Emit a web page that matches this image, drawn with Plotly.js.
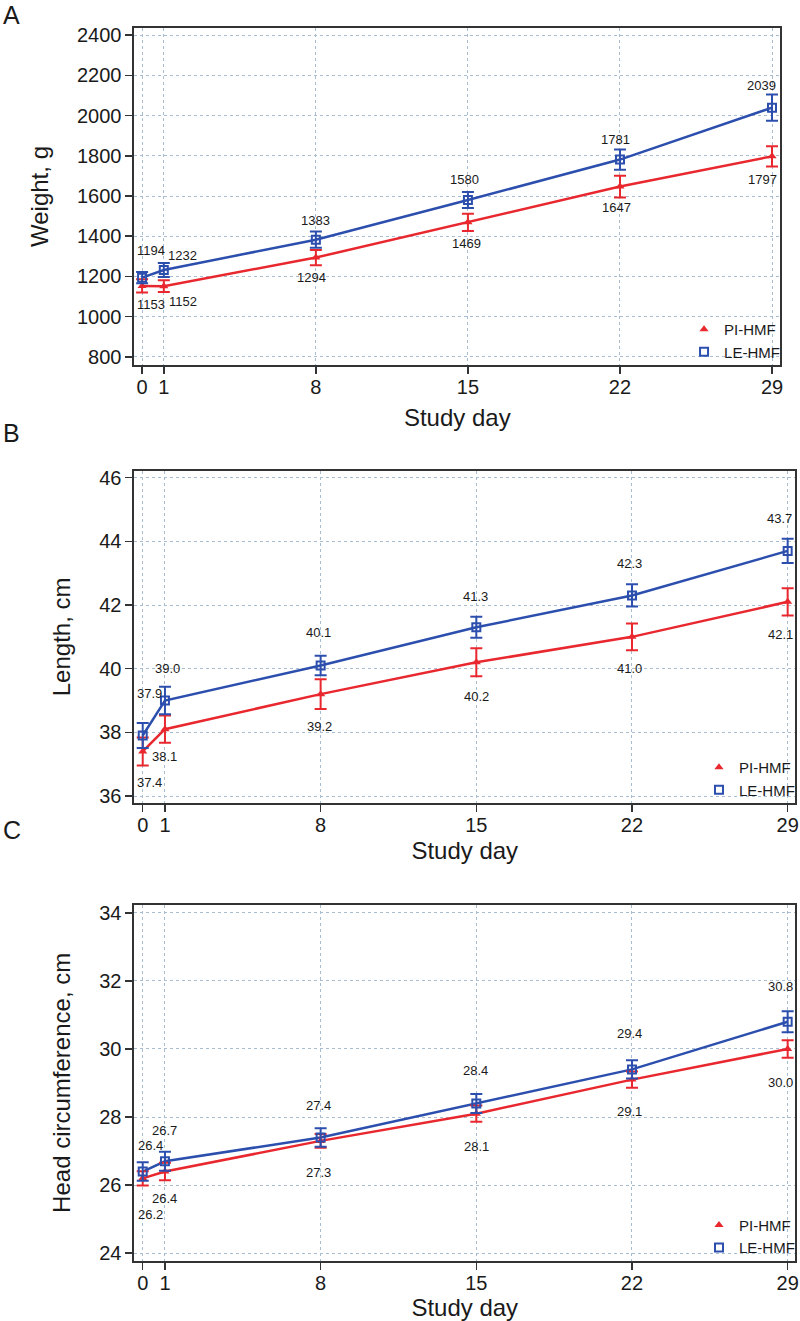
<!DOCTYPE html>
<html>
<head>
<meta charset="utf-8">
<script src="https://cdn.plot.ly/plotly-3.0.1.min.js"></script>
<style>html,body{margin:0;padding:0;background:#fff;}#chart{width:800px;height:1321px;}</style>
</head>
<body>
<div id="chart"></div>
<script>
// ---- data ----
const days = [0, 1, 8, 15, 22, 29];
const dayTicks = ["0", "1", "8", "15", "22", "29"];
const seriesNames = ["PI-HMF", "LE-HMF"];

const weightPI = [1153, 1152, 1294, 1469, 1647, 1797];
const weightPIErr = [33, 29, 38, 43, 54, 50];
const weightLE = [1194, 1232, 1383, 1580, 1781, 2039];
const weightLEErr = [28, 35, 40, 40, 50, 65];

const lengthPI = [37.4, 38.1, 39.2, 40.2, 41.0, 42.1];
const lengthPIErr = [0.44, 0.43, 0.47, 0.44, 0.42, 0.43];
const lengthLE = [37.9, 39.0, 40.1, 41.3, 42.3, 43.7];
const lengthLEErr = [0.39, 0.43, 0.31, 0.33, 0.35, 0.38];

const headPI = [26.2, 26.4, 27.3, 28.1, 29.1, 30.0];
const headPIErr = [0.21, 0.26, 0.20, 0.24, 0.24, 0.26];
const headLE = [26.4, 26.7, 27.4, 28.4, 29.4, 30.8];
const headLEErr = [0.27, 0.28, 0.27, 0.28, 0.27, 0.31];

// ---- styles ----
const RED = "#e8282e";
const BLUE = "#2c4fae";
const W = 800, H = 1321;
const FONT = "Liberation Sans, Arial, Helvetica, sans-serif";

// label offsets (pixels) per panel
const offA = {LEdx: [9, 19, 0, -3, -4, -11], LEdy: [27, 15, 19, 21, 20, 22],
              PIdx: [9, 19, -4, -1, -3, -10], PIdy: [-19, -15, -20, -21, -21, -23]};
const offB = {LEdx: [7, 3, -2, -1, -2, -8], LEdy: [42, 32, 33, 31, 32, 32],
              PIdx: [7, 0, -1, 0, -2, -7], PIdy: [-31, -27, -32, -34, -32, -33]};
const offC = {LEdx: [8, 0, -2, -1, -2, -7], LEdy: [26, 31, 32, 33, 36, 35],
              PIdx: [8, 0, -2, 0, -2, -7], PIdy: [-36, -27, -32, -33, -32, -34]};

// plot boxes in pixels [left, right, top, bottom]
const boxes = [
  [135, 783, 28, 365],
  [135, 798, 470.7, 803],
  [135, 798, 905, 1260.7]
];

const panels = [
  {pi: weightPI, piErr: weightPIErr, le: weightLE, leErr: weightLEErr, off: offA, dec: 0,
   yr: [760, 2435], dtick: 200, xr: [-0.35, 29.37], ytitle: "Weight, g", letter: "A"},
  {pi: lengthPI, piErr: lengthPIErr, le: lengthLE, leErr: lengthLEErr, off: offB, dec: 1,
   yr: [35.78, 46.22], dtick: 2, xr: [-0.37, 29.33], ytitle: "Length, cm", letter: "B"},
  {pi: headPI, piErr: headPIErr, le: headLE, leErr: headLEErr, off: offC, dec: 1,
   yr: [23.78, 34.23], dtick: 2, xr: [-0.37, 29.33], ytitle: "Head circumference, cm", letter: "C"}
];

const traces = [];
const annotations = [];
const layout = {
  width: W, height: H,
  margin: {l: 0, r: 0, t: 0, b: 0},
  paper_bgcolor: "#ffffff",
  plot_bgcolor: "#ffffff",
  font: {family: FONT, color: "#1a1a1a"},
  showlegend: true
};

panels.forEach((p, i) => {
  const n = i === 0 ? "" : String(i + 1);
  const xa = "x" + n, ya = "y" + n;
  const lg = "legend" + n;
  const [L, R, T, B] = boxes[i];

  // lines
  traces.push({x: days, y: p.pi, xaxis: xa, yaxis: ya, mode: "lines", type: "scatter",
    line: {color: RED, width: 2.5}, showlegend: false, hoverinfo: "skip"});
  traces.push({x: days, y: p.le, xaxis: xa, yaxis: ya, mode: "lines", type: "scatter",
    line: {color: BLUE, width: 2.5}, showlegend: false, hoverinfo: "skip"});
  // markers + error bars
  traces.push({x: days, y: p.pi, xaxis: xa, yaxis: ya, mode: "markers", type: "scatter",
    name: seriesNames[0], legend: lg,
    marker: {symbol: "triangle-up", size: 8, color: RED},
    error_y: {type: "data", array: p.piErr, visible: true, color: RED, thickness: 2, width: 6}});
  traces.push({x: days, y: p.le, xaxis: xa, yaxis: ya, mode: "markers", type: "scatter",
    name: seriesNames[1], legend: lg,
    marker: {symbol: "square-open", size: 8, color: BLUE, line: {width: 2, color: BLUE}},
    error_y: {type: "data", array: p.leErr, visible: true, color: BLUE, thickness: 2, width: 6}});

  // value labels
  days.forEach((d, k) => {
    annotations.push({x: d, y: p.le[k], xref: xa, yref: ya, text: p.le[k].toFixed(p.dec),
      showarrow: false, xshift: p.off.LEdx[k], yshift: p.off.LEdy[k],
      font: {size: 13, color: "#1a1a1a", family: FONT}});
    annotations.push({x: d, y: p.pi[k], xref: xa, yref: ya, text: p.pi[k].toFixed(p.dec),
      showarrow: false, xshift: p.off.PIdx[k], yshift: p.off.PIdy[k],
      font: {size: 13, color: "#1a1a1a", family: FONT}});
  });

  const axCommon = {
    showline: true, mirror: true, linecolor: "#333333", linewidth: 2,
    ticks: "outside", ticklen: 7, tickwidth: 1.5, tickcolor: "#333333",
    showgrid: true, gridcolor: "#a9bdd2", griddash: "dot", gridwidth: 1,
    zeroline: false, automargin: false, ticklabeloverflow: "allow",
    tickfont: {size: 20, color: "#1a1a1a", family: FONT}
  };

  layout["xaxis" + n] = Object.assign({}, axCommon, {
    domain: [L / W, R / W], anchor: ya, range: p.xr,
    tickmode: "array", tickvals: days, ticktext: dayTicks,
    ticklabelstandoff: -4,
    title: {text: "Study day", font: {size: 24, family: FONT, color: "#1a1a1a"}, standoff: [12, 7, 5][i]}
  });
  layout["yaxis" + n] = Object.assign({}, axCommon, {
    domain: [1 - B / H, 1 - T / H], anchor: xa, range: p.yr,
    tick0: 0, dtick: p.dtick,
    title: {text: p.ytitle, font: {size: 24, family: FONT, color: "#1a1a1a"}, standoff: 22}
  });

  layout[lg] = {
    x: (R + 5) / W, xanchor: "right", y: 1 - (B + 3) / H, yanchor: "bottom",
    bgcolor: "rgba(0,0,0,0)", borderwidth: 0,
    font: {size: 15, family: FONT, color: "#1a1a1a"},
    itemwidth: 30, tracegroupgap: 0, traceorder: "normal"
  };

  annotations.push({xref: "paper", yref: "paper", x: 1 / W, y: 1 - [15, 433, 830][i] / H,
    xanchor: "left", yanchor: "middle", text: p.letter, showarrow: false,
    font: {size: 25, family: FONT, color: "#1a1a1a"}});
});

layout.annotations = annotations;

Plotly.newPlot("chart", traces, layout, {staticPlot: true, displayModeBar: false});
</script>
</body>
</html>
